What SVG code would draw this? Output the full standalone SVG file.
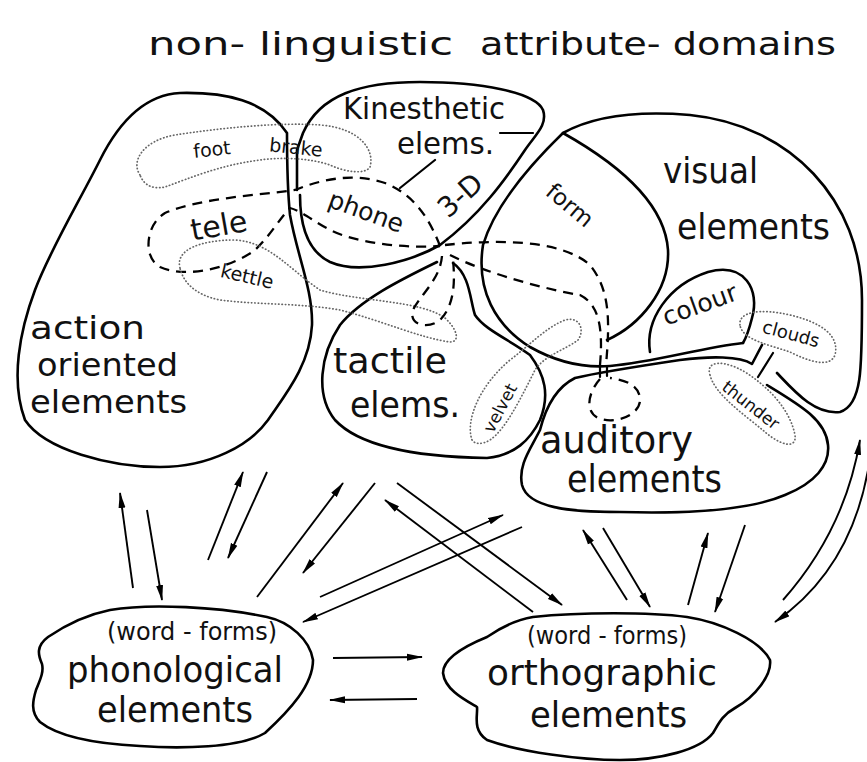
<svg xmlns="http://www.w3.org/2000/svg" width="867" height="762" viewBox="0 0 867 762">
<defs>
<marker id="ah" viewBox="0 0 16 8" markerWidth="16" markerHeight="8" refX="15" refY="4" orient="auto" markerUnits="userSpaceOnUse">
<path d="M0,0.5 L16,4 L0,7.5 Z" fill="#000"/>
</marker>
<style>
text{font-family:"DejaVu Sans","Liberation Sans",sans-serif;fill:#111}
.blob{fill:none;stroke:#000;stroke-width:2.6;stroke-linejoin:round;stroke-linecap:round}
.thin{fill:none;stroke:#000;stroke-width:2.2;stroke-linecap:round}
.dash{fill:none;stroke:#000;stroke-width:2.3;stroke-dasharray:10 7}
.dot{fill:none;stroke:#666;stroke-width:1.7;stroke-dasharray:0.4 3;stroke-linecap:round}
.arr{fill:none;stroke:#000;stroke-width:1.9;marker-end:url(#ah)}
</style>
</defs>
<rect width="867" height="762" fill="#fff"/>

<g id="title">
<text x="148" y="55" font-size="32" textLength="305" lengthAdjust="spacingAndGlyphs">non- linguistic</text>
<text x="480" y="55" font-size="32" textLength="356" lengthAdjust="spacingAndGlyphs">attribute- domains</text>
</g>

<g id="action">
<path class="blob" d="M287,133 C265,100 225,92 180,93 C140,95 115,130 100,160 C80,200 50,250 35,290 C20,330 10,380 25,420 C45,450 110,467 160,467 C210,467 250,445 268,420 C285,395 310,365 312,325 C313,290 297,255 290,215 C287,185 287,160 287,133"/>
<text x="30" y="339" font-size="31.5" textLength="115" lengthAdjust="spacingAndGlyphs">action</text>
<text x="37" y="376" font-size="31.5" textLength="141" lengthAdjust="spacingAndGlyphs">oriented</text>
<text x="30" y="413" font-size="31.5" textLength="157" lengthAdjust="spacingAndGlyphs">elements</text>
</g>

<g id="kinesthetic">
<path class="blob" d="M297,190 L297,150 L303,133 C320,95 360,82 420,82 C480,82 535,92 543,110 C548,125 535,135 525,150 C505,180 480,215 440,245 C410,262 360,275 330,262 C305,250 300,220 300,195"/>
<path class="thin" d="M500,133 L533,133 M435,160 L400,188"/>
<text x="343" y="119" font-size="31" textLength="162" lengthAdjust="spacingAndGlyphs">Kinesthetic</text>
<text x="397" y="154" font-size="31" textLength="97" lengthAdjust="spacingAndGlyphs">elems.</text>
<text x="460" y="205" font-size="28" text-anchor="middle" transform="rotate(-42 460 195)">3-D</text>
</g>

<g id="tactile">
<path class="blob" d="M437,262 C400,280 360,300 340,325 C320,355 315,395 335,420 C360,447 420,457 487,458 C515,455 530,440 540,420 C550,395 545,375 530,355 C510,340 485,330 475,315 C470,300 470,275 453,263"/>
<text x="333" y="373" font-size="36" textLength="114" lengthAdjust="spacingAndGlyphs">tactile</text>
<text x="350" y="417" font-size="36" textLength="110" lengthAdjust="spacingAndGlyphs">elems.</text>
</g>

<g id="visual">
<path class="blob" d="M777,373 C795,392 815,415 840,412 C862,405 862,370 862,300 C862,200 790,125 690,115 C630,110 590,118 563,133 C530,165 495,205 483,245 C476,290 495,325 530,347 C560,364 585,368 610,366 C655,362 700,348 743,343"/>
<path class="blob" d="M563,133 C620,165 665,205 668,250 C670,290 640,325 607,340"/>
<path class="blob" d="M650,352 C645,320 668,285 708,272 C745,262 760,290 752,318 C749,330 746,338 743,343"/>
<path class="thin" d="M600,366 L600,377 M607,366 L607,376 M758,377 L773,353"/>
<text x="663" y="183" font-size="36" textLength="95" lengthAdjust="spacingAndGlyphs">visual</text>
<text x="677" y="239" font-size="36" textLength="153" lengthAdjust="spacingAndGlyphs">elements</text>
<text x="570" y="213" font-size="23" text-anchor="middle" transform="rotate(40 570 205)">form</text>
<text x="700" y="313" font-size="25" text-anchor="middle" transform="rotate(-20 700 305)">colour</text>
</g>

<g id="auditory">
<path class="blob" d="M762,345 L752,364 C740,356 710,356 680,360 C640,366 600,372 575,378 C555,388 545,410 540,430 C530,450 518,465 522,485 C528,508 570,512 620,512 C690,514 750,510 785,495 C815,483 830,465 828,445 C826,420 800,405 767,385"/>
<text x="540" y="453" font-size="37" textLength="153" lengthAdjust="spacingAndGlyphs">auditory</text>
<text x="567" y="492" font-size="37" textLength="155" lengthAdjust="spacingAndGlyphs">elements</text>
</g>

<g id="foot-brake">
<path class="dot" d="M140,175 C130,160 145,140 175,135 C220,128 280,122 320,125 C360,128 375,150 370,167 C365,175 345,172 330,165 C310,158 280,157 260,160 C220,165 190,178 165,187 C150,190 143,183 140,175 Z"/>
<text x="212" y="156" font-size="19" text-anchor="middle" transform="rotate(-6 212 150)">foot</text>
<text x="296" y="154" font-size="19" text-anchor="middle" transform="rotate(6 296 148)">brake</text>
</g>

<g id="telephone">
<path class="dash" d="M440,246 C430,220 415,195 385,183 C355,173 325,178 295,190 C260,195 200,198 165,213 C145,225 143,258 160,267 C190,280 235,265 255,250 C270,236 280,218 290,208 C305,212 320,228 345,236 C375,245 410,248 440,246"/>
<text x="219" y="236" font-size="30" text-anchor="middle" transform="rotate(-10 219 227)">tele</text>
<text x="366" y="220" font-size="25" text-anchor="middle" transform="rotate(20 366 212)">phone</text>
</g>

<g id="kettle">
<path class="dot" d="M180,268 C175,250 200,240 235,240 C270,242 290,270 320,290 C360,302 420,300 445,318 C458,330 460,342 450,342 C420,338 380,320 340,310 C300,303 260,305 220,300 C195,295 183,282 180,268 Z"/>
<text x="247" y="283" font-size="19" text-anchor="middle" transform="rotate(13 247 277)">kettle</text>
</g>

<g id="velvet">
<path class="dot" d="M472,440 C465,420 480,385 510,360 C530,345 545,328 565,320 C580,316 585,330 578,340 C565,350 545,355 535,370 C520,400 505,430 490,440 C482,445 474,444 472,440 Z"/>
<text x="500" y="414" font-size="17" text-anchor="middle" transform="rotate(-62 500 408)">velvet</text>
</g>

<g id="clouds">
<path class="dot" d="M740,325 C738,312 760,308 790,315 C820,322 840,335 835,355 C830,368 810,362 790,352 C770,345 742,340 740,325 Z"/>
<text x="791" y="340" font-size="18" text-anchor="middle" transform="rotate(15 791 334)">clouds</text>
</g>

<g id="thunder">
<path class="dot" d="M710,375 C705,360 725,360 745,372 C770,388 790,410 795,435 C797,450 780,445 765,432 C745,415 715,395 710,375 Z"/>
<text x="751" y="411" font-size="17" text-anchor="middle" transform="rotate(38 751 405)">thunder</text>
</g>

<g id="paths">
<path class="dash" d="M445,245 C490,240 560,238 590,265 C610,290 610,320 606,365"/>
<path class="dash" d="M450,255 C490,275 550,290 580,295 C600,305 603,330 600,365"/>
<path class="dash" d="M600,379 C590,390 583,410 598,418 C615,425 640,415 640,400 C640,385 625,380 610,378"/>
<path class="dash" d="M442,256 C440,280 420,295 413,310 C408,325 428,330 440,320 C455,305 455,280 453,260"/>
</g>

<g id="phonological">
<path class="blob" d="M110,610 C150,603 220,607 267,617 C290,622 310,640 313,660 C313,685 290,710 265,733 C240,748 180,749 140,746 C100,744 60,738 40,722 C30,712 33,700 36,690 C40,680 44,672 42,664 C38,655 36,646 48,637 C70,622 90,614 110,610 Z"/>
<text x="107" y="640" font-size="24" textLength="170" lengthAdjust="spacingAndGlyphs">(word - forms)</text>
<text x="67" y="682" font-size="36" textLength="216" lengthAdjust="spacingAndGlyphs">phonological</text>
<text x="97" y="722" font-size="36" textLength="156" lengthAdjust="spacingAndGlyphs">elements</text>
</g>

<g id="orthographic">
<path class="blob" d="M533,617 C580,612 650,612 687,617 C720,622 760,640 770,660 C772,675 755,697 735,708 C722,715 718,725 713,733 C700,750 660,760 620,760 C580,760 520,752 487,740 C472,730 478,715 477,707 C465,700 445,690 443,673 C443,660 460,648 487,637 C500,628 515,620 533,617 Z"/>
<text x="527" y="644" font-size="24" textLength="160" lengthAdjust="spacingAndGlyphs">(word - forms)</text>
<text x="487" y="685" font-size="36" textLength="230" lengthAdjust="spacingAndGlyphs">orthographic</text>
<text x="530" y="727" font-size="36" textLength="157" lengthAdjust="spacingAndGlyphs">elements</text>
</g>

<g id="connectors">
<line class="arr" x1="133" y1="588" x2="120" y2="493"/>
<line class="arr" x1="147" y1="510" x2="162" y2="600"/>
<line class="arr" x1="208" y1="560" x2="243" y2="472"/>
<line class="arr" x1="267" y1="472" x2="228" y2="558"/>
<line class="arr" x1="257" y1="597" x2="343" y2="483"/>
<line class="arr" x1="375" y1="483" x2="303" y2="573"/>
<line class="arr" x1="397" y1="483" x2="562" y2="605"/>
<line class="arr" x1="533" y1="612" x2="385" y2="500"/>
<line class="arr" x1="320" y1="597" x2="503" y2="515"/>
<line class="arr" x1="522" y1="527" x2="303" y2="622"/>
<line class="arr" x1="627" y1="600" x2="583" y2="530"/>
<line class="arr" x1="603" y1="528" x2="650" y2="607"/>
<line class="arr" x1="688" y1="605" x2="708" y2="533"/>
<line class="arr" x1="745" y1="525" x2="715" y2="612"/>
<path class="arr" d="M783,600 Q845,530 860,440"/>
<path class="arr" d="M868,470 Q850,570 775,622"/>
<line class="arr" x1="333" y1="658" x2="422" y2="657"/>
<line class="arr" x1="417" y1="699" x2="330" y2="700"/>
</g>
</svg>
